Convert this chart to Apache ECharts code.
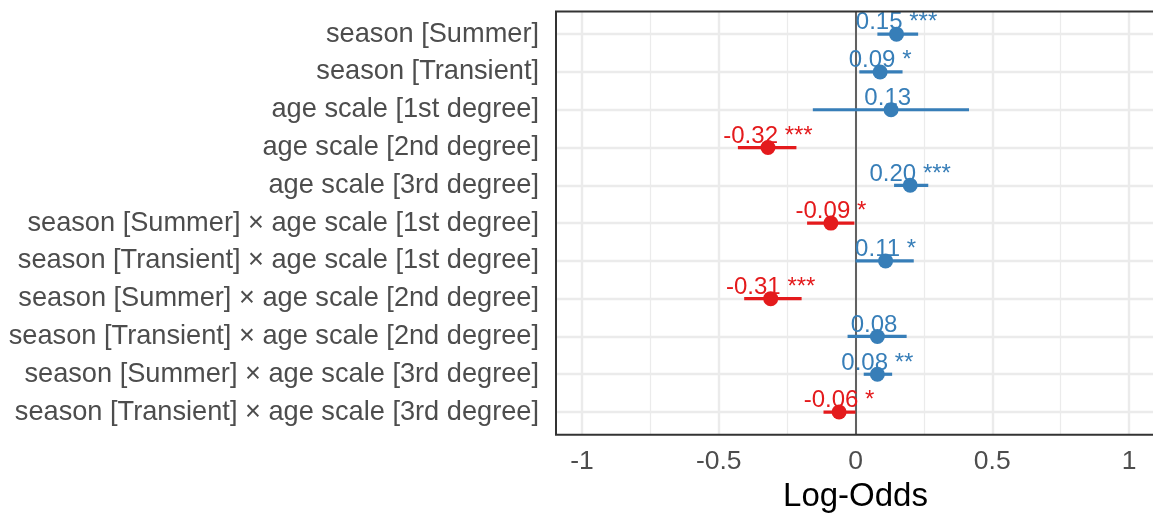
<!DOCTYPE html>
<html>
<head>
<meta charset="utf-8">
<title>Log-Odds</title>
<script src="https://cdn.jsdelivr.net/npm/echarts@6/dist/echarts.min.js"></script>
<style>
  html, body { margin: 0; padding: 0; background: #ffffff; }
  #chart { width: 1153px; height: 516px; }
</style>
</head>
<body>
<div id="chart"></div>
<script>
// Model terms, top to bottom
const terms = [
  'season [Summer]',
  'season [Transient]',
  'age scale [1st degree]',
  'age scale [2nd degree]',
  'age scale [3rd degree]',
  'season [Summer] \u00d7 age scale [1st degree]',
  'season [Transient] \u00d7 age scale [1st degree]',
  'season [Summer] \u00d7 age scale [2nd degree]',
  'season [Transient] \u00d7 age scale [2nd degree]',
  'season [Summer] \u00d7 age scale [3rd degree]',
  'season [Transient] \u00d7 age scale [3rd degree]'
];

// Point estimates (log-odds) and confidence limits
const estimates = [0.15, 0.09, 0.13, -0.32, 0.20, -0.09, 0.11, -0.31, 0.08, 0.08, -0.06];
const ciLow  = [0.080, 0.014, -0.156, -0.430, 0.141, -0.177, 0.000, -0.407, -0.029, 0.030, -0.117];
const ciHigh = [0.229, 0.172,  0.415, -0.216, 0.266, -0.004, 0.213, -0.197,  0.187, 0.134,  0.000];

// Significance stars
const stars = ['***', '*', '', '***', '***', '*', '*', '***', '', '**', '*'];

// Axis ticks
const xTicks = [-1, -0.5, 0, 0.5, 1];
const xMinorTicks = [-0.75, -0.25, 0.25, 0.75];
const rowIndex = terms.map((t, i) => i);

const POS = '#377EB8';
const NEG = '#E41A1C';
const FONT = '"Liberation Sans", Arial, sans-serif';

const colorOf = v => (v < 0 ? NEG : POS);

const chart = echarts.init(document.getElementById('chart'), null, { renderer: 'canvas' });

const gridLines = [];
xMinorTicks.forEach(v => gridLines.push({ xAxis: v, lineStyle: { color: '#EBEBEB', width: 1.2, type: 'solid', opacity: 1 } }));
xTicks.forEach(v => gridLines.push({ xAxis: v, lineStyle: { color: '#EBEBEB', width: 2.4, type: 'solid', opacity: 1 } }));
rowIndex.forEach(v => gridLines.push({ yAxis: v, lineStyle: { color: '#EBEBEB', width: 2.4, type: 'solid', opacity: 1 } }));

const option = {
  animation: false,
  backgroundColor: '#ffffff',
  textStyle: { fontFamily: FONT },
  grid: {
    left: 556, top: 11.5, width: 599, bottom: 81.3,
    outerBoundsMode: 'none',
    containLabel: false,
    show: true, borderColor: '#333333', borderWidth: 2, backgroundColor: 'transparent', z: 10
  },
  xAxis: {
    type: 'value',
    min: -1.095, max: 1.095,
    name: 'Log-Odds',
    nameLocation: 'middle',
    nameGap: 46,
    nameTextStyle: { color: '#000000', fontSize: 33, fontFamily: FONT },
    axisLine: { show: false },
    axisTick: { show: true, length: 8, customValues: xTicks, lineStyle: { color: '#333333', width: 2 } },
    axisLabel: {
      customValues: xTicks, margin: 13, color: '#4D4D4D', fontSize: 26.5, fontFamily: FONT,
      formatter: v => String(v)
    },
    splitLine: { show: false }
  },
  yAxis: {
    type: 'value',
    inverse: true,
    min: -0.6, max: 10.6,
    axisLine: { show: false },
    axisTick: { show: true, length: 8, customValues: rowIndex, lineStyle: { color: '#333333', width: 2 } },
    axisLabel: {
      customValues: rowIndex, margin: 17, color: '#4D4D4D', fontSize: 27.2, fontFamily: FONT,
      formatter: v => terms[Math.round(v)] || ''
    },
    splitLine: { show: false }
  },
  series: [
    {
      // background grid and reference line at zero
      type: 'line',
      data: [],
      silent: true,
      z: 1,
      markLine: {
        silent: true,
        z: 1,
        symbol: ['none', 'none'],
        label: { show: false },
        animation: false,
        emphasis: { disabled: true },
        data: gridLines.concat([{ xAxis: 0, lineStyle: { color: '#333333', width: 1.5, type: 'solid', opacity: 1 } }])
      }
    },
    {
      // confidence intervals
      type: 'custom',
      silent: true,
      z: 3,
      data: rowIndex.map(i => [ciLow[i], ciHigh[i], i, estimates[i]]),
      encode: { x: [0, 1], y: 2 },
      renderItem: (params, api) => {
        const a = api.coord([api.value(0), api.value(2)]);
        const b = api.coord([api.value(1), api.value(2)]);
        return {
          type: 'rect',
          shape: { x: a[0], y: a[1] - 1.6, width: b[0] - a[0], height: 3.2 },
          style: { fill: colorOf(api.value(3)), opacity: 1 }
        };
      }
    },
    {
      // point estimates with value labels
      type: 'scatter',
      silent: true,
      z: 4,
      symbol: 'circle',
      symbolSize: 15,
      itemStyle: { opacity: 1 },
      data: rowIndex.map(i => ({
        value: [estimates[i], i],
        itemStyle: { color: colorOf(estimates[i]), opacity: 1 },
        label: { color: colorOf(estimates[i]) }
      })),
      label: {
        show: true,
        position: 'inside',
        offset: [0, -11.3],
        fontSize: 24,
        fontFamily: FONT,
        formatter: p => estimates[p.dataIndex].toFixed(2) + ' ' + stars[p.dataIndex]
      },
      emphasis: { disabled: true }
    }
  ]
};

chart.setOption(option);
</script>
</body>
</html>
